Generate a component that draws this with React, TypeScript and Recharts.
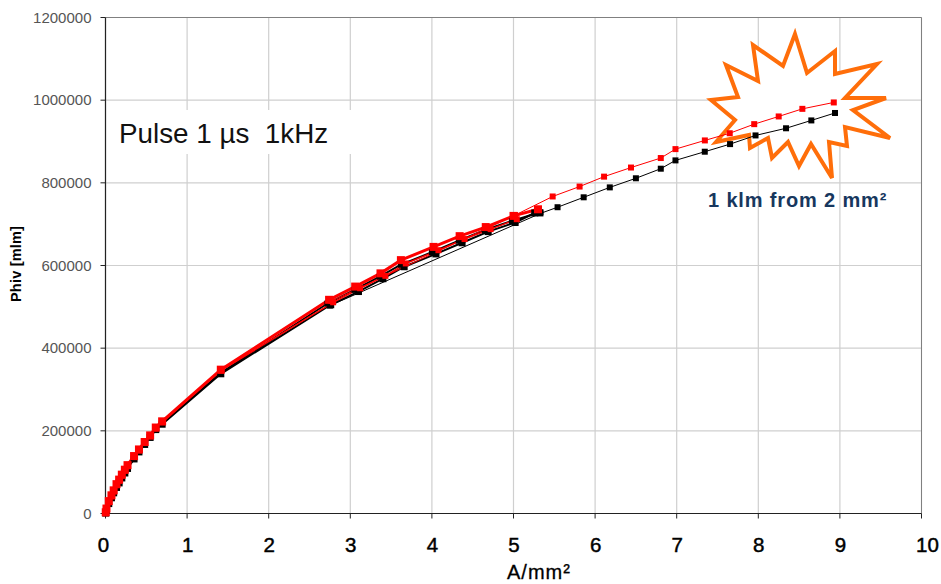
import React from "react";
import { ComposedChart, Line, XAxis, YAxis, CartesianGrid, ReferenceLine, ReferenceArea } from "recharts";

const FONT = "'Liberation Sans', Arial, sans-serif";

const xTicks = [0, 1, 2, 3, 4, 5, 6, 7, 8, 9, 10];
const yTicks = [0, 200000, 400000, 600000, 800000, 1000000, 1200000];

// shared low-current part of the curves
const lowX = [0.003, 0.012, 0.04, 0.073, 0.1, 0.135, 0.167, 0.2, 0.237, 0.27, 0.35, 0.41, 0.48, 0.547, 0.616, 0.694, 1.413];
const redLowY = [3000, 12000, 30000, 44000, 56000, 71000, 82000, 94000, 106000, 117000, 139000, 155000, 173000, 189000, 208000, 223000, 348000];
const blackLowY = [1000, 8000, 24000, 38000, 50000, 63000, 74000, 86000, 98000, 109000, 132000, 149000, 167000, 184000, 203000, 216000, 338000];

// clusters between 2.7 and 5.3 A/mm²
const redAX = [2.74, 3.06, 3.37, 3.62, 4.02, 4.34, 4.66, 5.0, 5.3];
const redAY = [517000, 549000, 581000, 613000, 645000, 671000, 693000, 720000, 736000];
const redBX = [2.79, 3.12, 3.43, 3.68, 4.08, 4.4, 4.72, 5.04];
const redBY = [511000, 545000, 575000, 605000, 637000, 664000, 688000, 712000];
const blackAX = [2.76, 3.1, 3.4, 3.66, 4.05, 4.37, 4.69, 5.02, 5.26];
const blackAY = [505000, 537000, 568000, 597000, 628000, 655000, 682000, 704000, 727000];
const blackBX = [2.72, 3.05, 3.36, 3.62, 4.0, 4.33, 4.65, 4.98, 5.33];
const blackBY = [508000, 541000, 573000, 602000, 632000, 660000, 686000, 708000, 729000];

// long thin runs out to 9 A/mm²
const redLongX = [2.77, 5.02, 5.48, 5.81, 6.11, 6.44, 6.805, 6.985, 7.345, 7.65, 7.95, 8.25, 8.54, 8.925];
const redLongY = [514000, 722000, 767000, 791000, 815000, 837000, 860000, 881600, 902600, 920000, 942000, 960600, 979000, 994500];
const blackLongX = [2.75, 5.33, 5.54, 5.86, 6.18, 6.5, 6.805, 6.985, 7.344, 7.654, 7.966, 8.34, 8.65, 8.94];
const blackLongY = [503000, 726000, 741000, 765000, 789000, 811000, 834200, 854300, 875300, 893700, 914700, 932000, 951000, 969000];

const zip = (xs: number[], ys: number[]) => xs.map((x, i) => ({ x, y: ys[i] }));

const blackCore = zip([...lowX, ...blackAX], [...blackLowY, ...blackAY]);
const blackSecond = zip([...lowX, ...blackBX], [...blackLowY.map((v) => v + 2500), ...blackBY]);
const blackLong = zip(blackLongX, blackLongY);
const redLong = zip(redLongX, redLongY);
const redSecond = zip([...lowX, ...redBX], [...redLowY.map((v) => v - 2500), ...redBY]);
const redCore = zip([...lowX, ...redAX], [...redLowY, ...redAY]);

// annotation outline, in page pixels
const starPoints = [
  [795, 34], [807, 73], [835, 51], [835, 74], [877, 64], [845, 98], [886, 98], [853, 110],
  [890, 138], [845, 127], [847, 146], [829, 142], [832, 178], [811, 144], [799, 166], [788, 142],
  [772, 158], [768, 138], [750, 148], [749, 135], [716, 142], [735, 120], [711, 100], [738, 97],
  [726, 65], [758, 81], [753, 45], [783, 66],
];

const square = (size: number, color: string) => (p: any) => (
  <rect key={p.key ?? p.index} x={p.cx - size / 2} y={p.cy - size / 2} width={size} height={size} fill={color} stroke="none" />
);

const Star = () => (
  <polygon
    points={starPoints.map((p) => p.join(",")).join(" ")}
    fill="#ffffff"
    stroke="#FF6E0A"
    strokeWidth={4}
    strokeLinejoin="miter"
  />
);

const Mask = () => <rect x={110} y={110} width={245} height={44} fill="#ffffff" />;

const XTick = (p: any) => {
  const v = p.payload.value;
  const shift = v === 10 ? 6 : v === 0 ? -2 : 0.5;
  return (
    <text
      x={p.x + shift}
      y={552}
      textAnchor="middle"
      fontFamily={FONT}
      fontSize={20.5}
      fill="#000"
      stroke="#000"
      strokeWidth={0.45}
    >
      {v}
    </text>
  );
};

const series = [
  { name: "black long", data: blackLong, color: "#000000", w: 1, m: 6 },
  { name: "black second", data: blackSecond, color: "#000000", w: 2, m: 6 },
  { name: "black core", data: blackCore, color: "#000000", w: 2, m: 7 },
  { name: "red long", data: redLong, color: "#FF0000", w: 1, m: 6 },
  { name: "red second", data: redSecond, color: "#FF0000", w: 1.5, m: 6 },
  { name: "red core", data: redCore, color: "#FF0000", w: 3, m: 8 },
];

export default function App() {
  return (
    <div style={{ position: "absolute", left: 0, top: 0, width: 941, height: 584, background: "#fff" }}>
      <ComposedChart
        width={941}
        height={584}
        margin={{ top: 17.5, right: 19.5, bottom: 0, left: 0 }}
      >
        <CartesianGrid stroke="#cfcfcf" strokeWidth={1.2} />
        <ReferenceArea x1={0} x2={10} y1={0} y2={1200000} fill="none" stroke="none" shape={() => <g><Mask /><Star /></g>} />
        <XAxis
          type="number"
          dataKey="x"
          domain={[0, 10]}
          ticks={xTicks}
          interval={0}
          allowDuplicatedCategory={false}
          height={70.5}
          tickSize={5}
          axisLine={{ stroke: "#222", strokeWidth: 1.2 }}
          tickLine={{ stroke: "#222" }}
          tick={XTick}
        />
        <YAxis
          type="number"
          dataKey="y"
          domain={[0, 1200000]}
          ticks={yTicks}
          interval={0}
          width={105.5}
          tickSize={5}
          tickMargin={9}
          axisLine={{ stroke: "#222", strokeWidth: 1.2 }}
          tickLine={{ stroke: "#222" }}
          tick={{ fontFamily: FONT, fontSize: 15, fill: "#555" }}
        />
        <ReferenceLine y={1200000} stroke="#808080" />
        <ReferenceLine x={10} stroke="#808080" />
        {series.map((s) => (
          <Line
            key={s.name}
            name={s.name}
            data={s.data}
            dataKey="y"
            type="linear"
            stroke={s.color}
            strokeWidth={s.w}
            dot={square(s.m, s.color)}
            activeDot={false}
            isAnimationActive={false}
            legendType="none"
          />
        ))}
        <ReferenceArea
          x1={0}
          x2={10}
          y1={0}
          y2={1200000}
          fill="none"
          stroke="none"
          shape={() => (
            <g fontFamily={FONT}>
              <text x={119} y={143} fontSize={27.8} fill="#111">{"Pulse 1 µs\u00A0\u00A01kHz"}</text>
              <text x={708} y={206.5} fontSize={20} fontWeight="bold" fill="#17375E" letterSpacing={0.85}>1 klm from 2 mm²</text>
              <text x={507} y={579} fontSize={20} fill="#000" stroke="#000" strokeWidth={0.3} letterSpacing={1}>A/mm²</text>
              <text transform="translate(21,302) rotate(-90)" fontSize={14.5} fontWeight="bold" fill="#000" letterSpacing={0.2}>Phiv [mlm]</text>
            </g>
          )}
        />
      </ComposedChart>
    </div>
  );
}
